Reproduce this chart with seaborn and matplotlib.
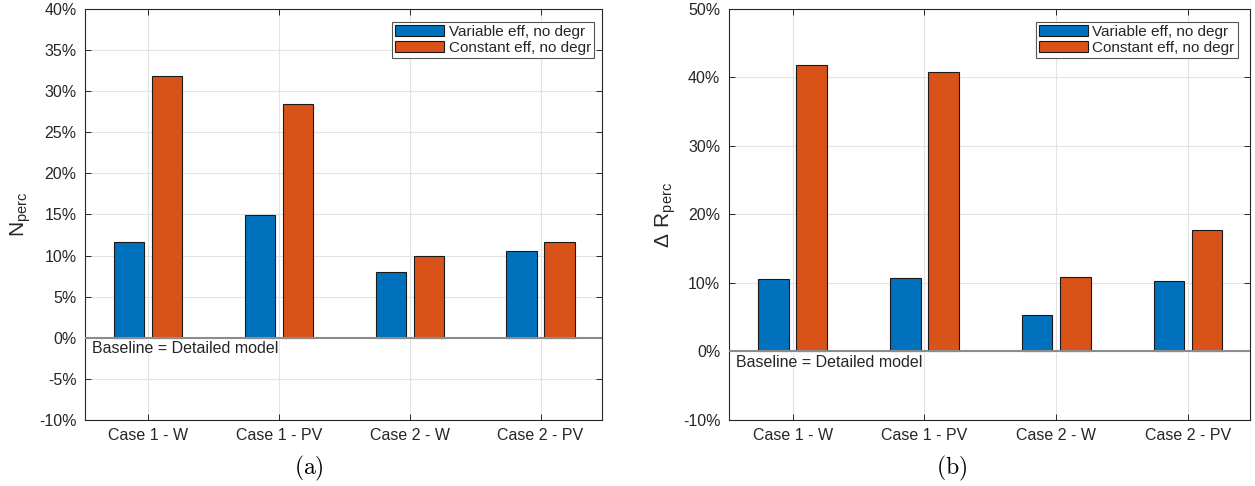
import numpy as np
import pandas as pd
import matplotlib
matplotlib.use("Agg")
import matplotlib.pyplot as plt
import seaborn as sns
from matplotlib.ticker import PercentFormatter, MultipleLocator

cases = ["Case 1 - W", "Case 1 - PV", "Case 2 - W", "Case 2 - PV"]
series = ["Variable eff, no degr", "Constant eff, no degr"]
n_var = [11.6, 14.9, 8.0, 10.5]
n_const = [31.8, 28.5, 9.9, 11.6]
r_var = [10.6, 10.7, 5.3, 10.3]
r_const = [41.8, 40.8, 10.9, 17.8]
colors = ["#0072BD", "#D95319"]

sns.set_style("ticks")
plt.rcParams["font.family"] = ["Liberation Sans", "DejaVu Sans"]
plt.rcParams["axes.unicode_minus"] = False
plt.rcParams["mathtext.default"] = "regular"

fig = plt.figure(figsize=(12.55, 4.86), dpi=100)
axL = fig.add_axes([0.0675, 0.1358, 0.4122, 0.8457])
axR = fig.add_axes([0.5806, 0.1358, 0.4154, 0.8457])

def make_df(a, b):
    return pd.DataFrame({
        "case": cases * 2,
        "model": [series[0]] * 4 + [series[1]] * 4,
        "value": list(a) + list(b),
    })

ink = "#262626"
panels = [
    (axL, make_df(n_var, n_const), (-10, 40), 5, r"$N_{perc}$", "(a)", 309 / 1255, (0.9845, 0.969), -0.100),
    (axR, make_df(r_var, r_const), (-10, 50), 10, r"$\Delta\ R_{perc}$", "(b)", 952 / 1255, (0.9764, 0.969), -0.097),
]

for ax, df, ylim, step, ylab, cap, capx, legpos, labx in panels:
    sns.barplot(data=df, x="case", y="value", hue="model", palette=colors,
                saturation=1, width=0.58, gap=0.2, edgecolor="#1a1a1a",
                linewidth=0.8, ax=ax, zorder=3)
    ax.set_xlim(-0.485, 3.47)
    ax.set_ylim(*ylim)
    ax.yaxis.set_major_locator(MultipleLocator(step))
    ax.yaxis.set_major_formatter(PercentFormatter(decimals=0))
    ax.grid(True, color="#e3e3e3", lw=0.8, zorder=0)
    ax.set_axisbelow(True)
    ax.axhline(0, color="#8c8c8c", lw=1.5, zorder=4)
    for s in ax.spines.values():
        s.set_visible(True)
        s.set_color(ink)
        s.set_linewidth(0.8)
    ax.tick_params(direction="in", top=True, right=True, length=4, width=0.7,
                   colors=ink, labelsize=11.5, pad=6)
    ax.set_xlabel("")
    ax.set_ylabel(ylab, fontsize=15, color=ink)
    ax.yaxis.set_label_coords(labx, 0.5)
    ax.text(-0.43, -0.45, "Baseline = Detailed model", fontsize=11.5, color=ink,
            va="top", ha="left", zorder=5)
    h, l = ax.get_legend_handles_labels()
    leg = ax.legend(h, l, loc="upper right", bbox_to_anchor=legpos, fontsize=11,
                    frameon=True, fancybox=False, framealpha=1,
                    edgecolor="#555555", handlelength=3.2, handleheight=0.8,
                    handletextpad=0.3, labelspacing=0.12, borderpad=0.2,
                    borderaxespad=0)
    leg.get_frame().set_linewidth(0.8)
    fig.text(capx, 1 - 468 / 486, r"$\mathrm{" + cap + "}$", fontsize=17,
             math_fontfamily="cm", ha="center", va="center", color="black")

fig.savefig("out.png", dpi=100)
